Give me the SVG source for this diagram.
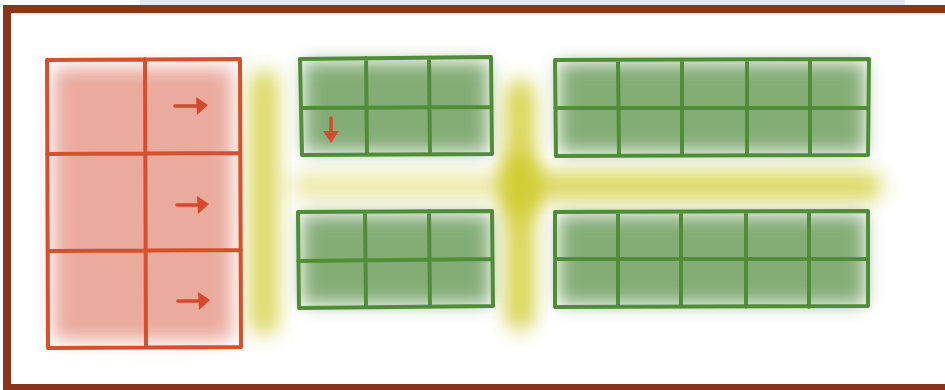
<svg xmlns="http://www.w3.org/2000/svg" width="945" height="390" viewBox="0 0 945 390">
<defs>
<filter id="blurY" x="-50%" y="-50%" width="200%" height="200%"><feGaussianBlur stdDeviation="10"/></filter>
<filter id="blurF" x="-20%" y="-20%" width="140%" height="140%"><feGaussianBlur stdDeviation="9"/></filter>
</defs>
<style>
.red{fill:none;stroke:#D5502B;stroke-width:4;stroke-linecap:round;stroke-linejoin:round}
.grn{fill:none;stroke:#4F8E36;stroke-width:4;stroke-linecap:round;stroke-linejoin:round}
.gfill{fill:#6E9E5E;filter:url(#blurF);opacity:0.85}
.rfill{fill:#E59585;filter:url(#blurF);opacity:0.8}
.yel{fill:#D2CE35;filter:url(#blurY)}
.shaft{stroke:#D8482A;stroke-width:3.5;fill:none;stroke-linecap:round}
.head{fill:#D8482A}
</style>
<rect x="0" y="0" width="945" height="390" fill="#ffffff"/>
<rect x="140" y="0" width="765" height="6" fill="#E6E8EA"/>
<g id="highlights">
<rect class="yel" x="250" y="70" width="28" height="265" rx="14" opacity="0.8"/>
<rect class="yel" x="506" y="80" width="28" height="250" rx="14" opacity="0.9"/>
<rect class="yel" x="290" y="174" width="220" height="24" rx="12" opacity="0.45"/>
<rect class="yel" x="520" y="172" width="362" height="28" rx="14" opacity="0.8"/>
<ellipse class="yel" cx="520" cy="186" rx="20" ry="34"/>
</g>
<g id="red-grid">
<rect class="rfill" x="54" y="68" width="178" height="272"/>
<path class="red" d="M47,60 L240,59 L241,347 L48,348 Z M145,59 L146,347 M47,154 L240,153 M48,251 L241,250"/>
<path class="shaft" d="M175,106 L198,106"/><polygon class="head" points="196,97 208,105 197,115"/>
<path class="shaft" d="M177,205 L199,205"/><polygon class="head" points="197,196 209,204 198,214"/>
<path class="shaft" d="M178,301 L200,301"/><polygon class="head" points="198,292 210,300 199,310"/>
</g>
<g id="green-grid-1">
<rect class="gfill" x="304" y="62" width="184" height="90"/>
<path class="grn" d="M300,59 L491,57 L492,154 L302,155 Z M366,58 L367,155 M429,58 L430,154 M301,108 L491,107"/>
<path class="shaft" d="M331,118 L331,132"/><polygon class="head" points="323,131 339,131 331,143"/>
</g>
<g id="green-grid-2">
<rect class="gfill" x="302" y="215" width="188" height="89"/>
<path class="grn" d="M298,212 L492,211 L493,306 L299,308 Z M365,212 L366,307 M429,211 L430,307 M298,261 L492,259"/>
</g>
<g id="green-grid-3">
<rect class="gfill" x="559" y="63" width="306" height="89"/>
<path class="grn" d="M555,60 L869,59 L868,155 L556,156 Z M618,60 L619,155 M682,60 L682,155 M747,60 L747,155 M810,59 L810,155 M555,108 L868,108"/>
</g>
<g id="green-grid-4">
<rect class="gfill" x="559" y="215" width="306" height="89"/>
<path class="grn" d="M555,212 L868,211 L868,306 L555,307 Z M618,212 L618,307 M681,212 L681,307 M746,212 L746,307 M809,212 L809,307 M555,259 L868,259"/>
</g>
<path d="M7,390 L7,9 L945,9 M3,388 L945,388" fill="none" stroke="#8C3320" stroke-width="8"/>
</svg>
